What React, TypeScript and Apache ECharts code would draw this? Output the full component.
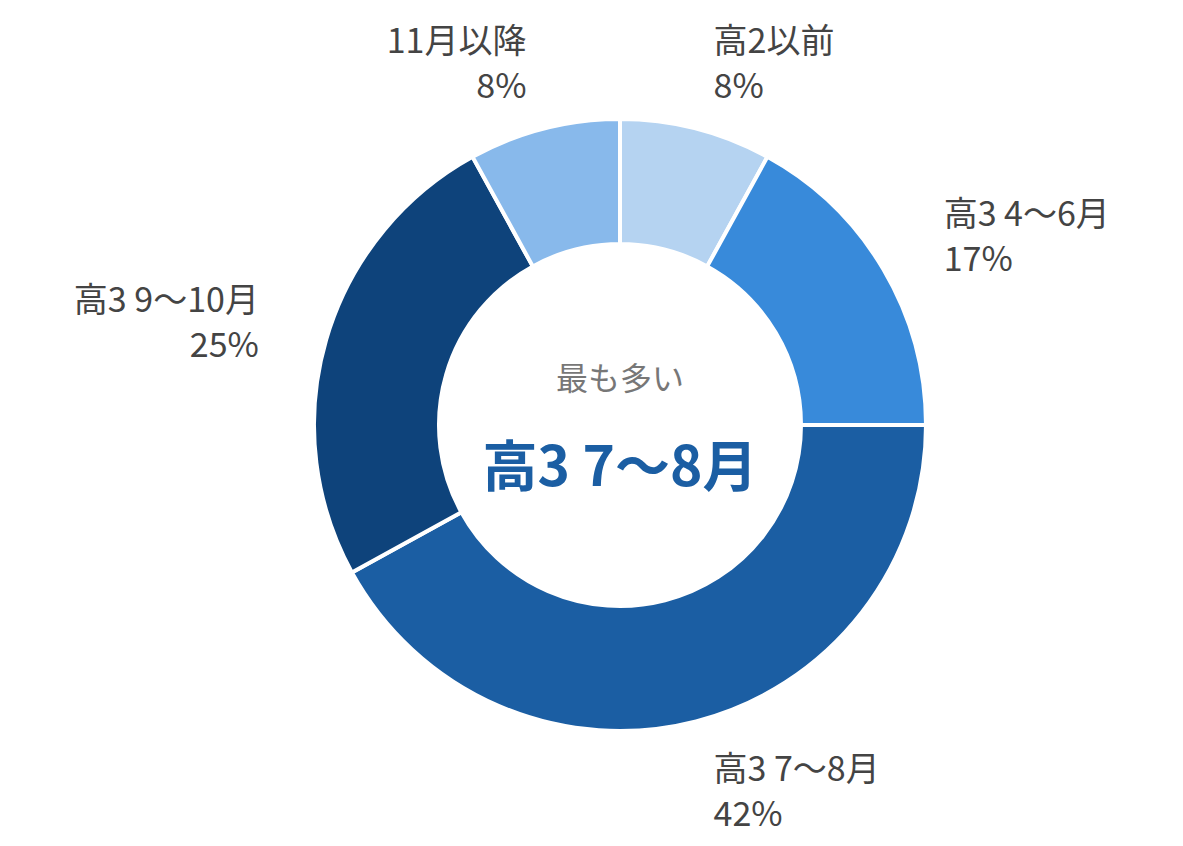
import * as echarts from "echarts";
import React, { useEffect, useRef } from "react";

const categories = ["高2以前", "高3 4〜6月", "高3 7〜8月", "高3 9〜10月", "11月以降"];
const shares = [8, 17, 42, 25, 8];
const colors = ["#b5d3f1", "#388ada", "#1b5ea3", "#0e437b", "#88b9eb"];
const centerCaption = "最も多い";
const centerValue = "高3 7〜8月";

const FONT = '"Noto Sans CJK JP", "Noto Sans", sans-serif';

const App: React.FC = () => {
  const chartRef = useRef<HTMLDivElement | null>(null);

  useEffect(() => {
    document.body.style.margin = "0";
    const chart = echarts.init(chartRef.current, null, { renderer: "svg" });
    chart.setOption({
      animation: false,
      textStyle: { fontFamily: FONT },
      graphic: [
        {
          type: "text",
          x: 620,
          y: 376,
          style: {
            text: centerCaption,
            fontSize: 32,
            fill: "#777777",
            fontFamily: FONT,
            align: "center",
            verticalAlign: "middle",
          },
        },
        {
          type: "text",
          x: 620,
          y: 462,
          style: {
            text: centerValue,
            fontSize: 55,
            fontWeight: "bold",
            fill: "#1b5ea3",
            fontFamily: FONT,
            align: "center",
            verticalAlign: "middle",
          },
        },
      ],
      series: [
        {
          type: "pie",
          center: [620, 425],
          radius: [181, 306],
          startAngle: 90,
          clockwise: true,
          avoidLabelOverlap: false,
          itemStyle: { borderColor: "#ffffff", borderWidth: 4 },
          label: {
            show: true,
            position: "outside",
            formatter: "{b}\n{c}%",
            fontSize: 34,
            lineHeight: 45,
            color: "#444444",
            fontFamily: FONT,
            distanceToLabelLine: 0,
          },
          labelLine: { show: false, length: 70, length2: 0 },
          emphasis: { disabled: true },
          data: categories.map((name, i) => ({
            name,
            value: shares[i],
            itemStyle: { color: colors[i] },
          })),
        },
      ],
    });
    return () => {
      chart.dispose();
    };
  }, []);

  return <div ref={chartRef} style={{ width: "1183px", height: "846px" }}></div>;
};

export default App;
